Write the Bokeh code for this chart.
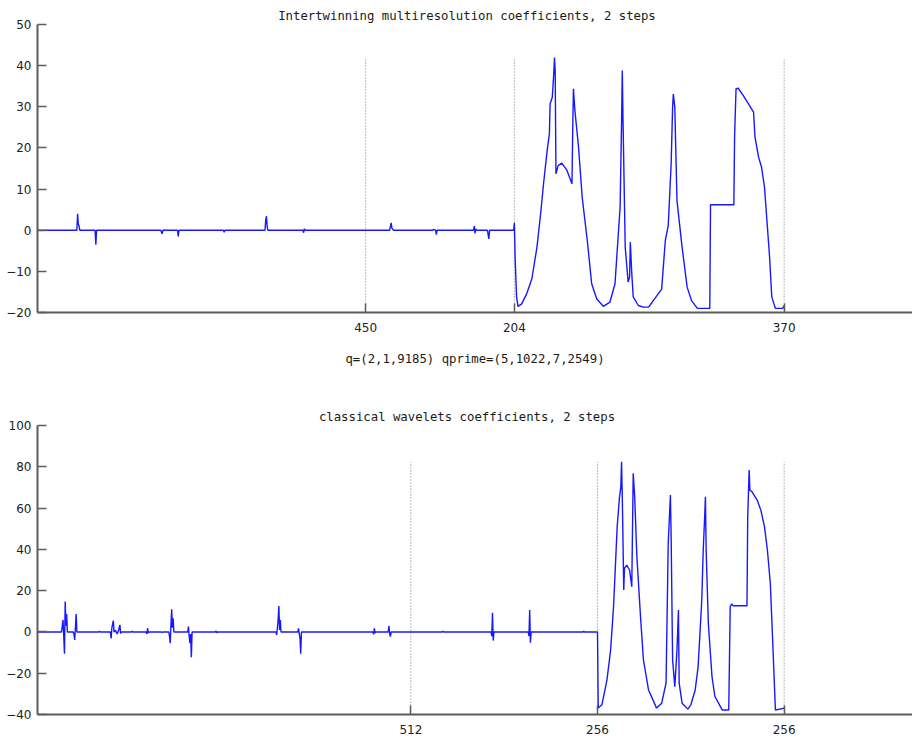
from bokeh.plotting import figure
from bokeh.layouts import column
from bokeh.models import Range1d, FixedTicker
from bokeh.embed import file_html
from bokeh.resources import INLINE

# ---- intertwining multiresolution coefficients (vertices: sample index, value)
inter_steps = [450, 204, 370]
inter_idx = [0, 54, 55, 56, 57, 58, 79, 80, 81, 169, 171, 172, 174, 175, 176, 192, 193, 194,
             255, 256, 257, 312, 313, 314, 315, 316, 364, 365, 366, 367, 483, 485, 486,
             488, 542, 543, 546, 547, 548, 598, 599, 600, 601, 602, 617, 619, 620, 653,
             654, 655, 657, 659, 664, 671, 678, 685, 690, 694, 699, 702, 703, 706, 708,
             709, 710, 711, 714, 719, 726, 733, 734, 735, 737, 742, 747, 754, 760, 767,
             776, 785, 792, 799, 801, 802, 803, 806, 810, 812, 813, 815, 817, 824, 831,
             838, 843, 856, 861, 865, 869, 871, 872, 874, 877, 884, 891, 897, 905, 922,
             923, 955, 956, 958, 961, 968, 975, 982, 984, 989, 993, 997, 1000, 1004,
             1007, 1012, 1022, 1024]
inter_val = [0, 0, 4.0, 1.5, 1.0, 0, 0, -3.5, 0, 0, -0.9, 0, 0, 0.1, 0, 0, -1.5, 0,
             0, -0.5, 0, 0, 2.5, 3.4, 0.8, 0, 0, -0.6, 0.3, 0, 0, 1.8, 0.5,
             0, 0, 0.2, 0, -1.1, 0, 0, 1.0, -0.8, 0.3, 0, 0, -2.1, 0, 0,
             1.8, -6.5, -16.2, -18.5, -17.9, -15.4, -11.8, -4.1, 4.0, 11.3, 19.4, 23.4, 30.7, 32.3, 38.0,
             42.0, 38.8, 13.7, 15.7, 16.3, 14.6, 11.3, 24.2, 34.4, 29.1, 20.2, 8.0, -2.5, -13.0, -16.7,
             -18.5, -17.5, -13.0, 5.6, 25.9, 38.8, 26.7, -4.1, -12.6, -11.4, -2.9, -10.5, -16.2, -18.3, -18.7,
             -18.7, -17.5, -14.3, -2.5, 1.1, 16.1, 29.9, 33.1, 29.9, 7.2, -4.1, -13.9, -17.1, -19.0, -19.0,
             6.2, 6.2, 22.6, 34.4, 34.5, 32.7, 30.7, 28.7, 22.6, 17.7, 15.3, 10.5, 3.2, -6.5,
             -16.2, -19.0, -19.0, -18.3]
inter_yticks = [-20, -10, 0, 10, 20, 30, 40, 50]

# ---- classical wavelet coefficients
wave_steps = [512, 256, 256]
wave_idx = [0, 33, 34, 35, 36, 37, 38, 39, 40, 41, 49, 50, 51, 52, 53, 54, 84, 85, 86,
            100, 101, 102, 104, 105, 107, 109, 111, 113, 114, 115, 129, 130, 131,
            149, 150, 151, 152, 153, 170, 171, 172, 180, 181, 182, 183, 184, 185, 186, 187,
            206, 207, 208, 209, 210, 211, 212, 244, 245, 246, 247,
            327, 328, 329, 330, 331, 332, 333, 334, 357, 358, 359, 360, 361, 362,
            460, 461, 462, 463, 464, 481, 482, 483, 484, 485, 555, 556, 557,
            622, 623, 624, 625, 626, 673, 674, 675, 676, 677, 748, 749, 750, 768,
            769, 774, 781, 786, 790, 795, 798, 800, 801, 802, 804, 805, 808, 812, 815,
            817, 819, 822, 827, 831, 838, 849, 856, 862, 865, 868, 869, 871, 874, 877,
            879, 880, 884, 892, 896, 902, 906, 911, 913, 915, 916, 917, 920, 925, 929,
            939, 948, 950, 952, 954, 973, 974, 976, 977, 980, 987, 992, 997, 1001,
            1005, 1008, 1012, 1018, 1024]
wave_val = [0, 0, 3, 5.8, -2, -10.6, 14.7, 3, 8.7, 0, 0, -1, -3.9, 2, 8.7, 0, 0, 0.3, 0,
            0, -3.1, 2, 5.5, 0, 0.8, -1, 0.5, 3.4, -0.8, 0, 0, 0.4, 0,
            0, -1, 1.8, -0.5, 0, 0, -0.3, 0, 0, -2, -5.5, 3, 11, 2, 6.6, 0,
            0, 2.6, -2, -5.5, -1, -12.3, 0, 0, 0.5, -0.4, 0,
            0, -1.5, 2, 5.8, 12.6, 1, 5.8, 0, 0, 1.7, -1, -3, -10.6, 0,
            0, -1.2, 1.7, -0.5, 0, 0, 2.9, -1, -2.2, 0, 0, 0.4, 0,
            0, -2, 9.3, -4.2, 0, 0, -2, 10.6, -5.2, 0, 0, 0.4, 0, 0,
            -36.9, -35.3, -23.2, -8.7, 12.2, 51, 64.7, 70.3, 82.4, 65.5, 20.3, 30.8, 32.4, 30, 21.9,
            76.8, 65.5, 36.4, 7.4, -13.6, -28.1, -36.9, -34.5, -24.8, 42.9, 66.3, 46.1, -13.6, -26.5, -8.7,
            10.6, -24.8, -34.5, -37.4, -35.3, -28.1, -16.8, 15.5, 39.7, 55.8, 65.5, 39.7, 4.2, -21.6, -31.3,
            -37.8, -37.8, 12.2, 13.6, 12.7, 12.7, 55.8, 78.4, 68.7, 67.9, 63.9, 59, 51, 39.7,
            23.6, -2.3, -37.8, -37.4, -37.0]
wave_yticks = [-40, -20, 0, 20, 40, 60, 80, 100]

X_MAX = 1200
FRAME_W = 875
AXIS_COLOR = "#5c5c5c"
MONO = "DejaVu Sans Mono"
SANS = "DejaVu Sans"
TITLE_PX = 12.3


def panel(title, idx, val, steps, yticks, xlabel, height, border_top, border_bottom, frame_h):
    p = figure(width=912, height=height, frame_width=FRAME_W, frame_height=frame_h,
               x_range=Range1d(0, X_MAX), y_range=Range1d(yticks[0], yticks[-1]),
               output_backend="svg", toolbar_location=None,
               min_border_left=37, min_border_right=0,
               min_border_top=border_top, min_border_bottom=border_bottom,
               background_fill_color="white", border_fill_color="white")
    p.outline_line_color = None
    p.xgrid.visible = False
    p.ygrid.visible = False

    # title sits slightly left of the frame centre
    text_w = len(title) * TITLE_PX * 0.602
    p.title.text = title
    p.title.align = "left"
    p.title.offset = FRAME_W / 2 - text_w / 2 - 8
    p.title.text_font = MONO
    p.title.text_font_size = f"{TITLE_PX}px"
    p.title.text_font_style = "normal"
    p.title.text_color = "#1a1a1a"
    p.title.standoff = 3

    # cumulative block boundaries, labelled with block lengths
    bounds = []
    total = 0
    for n in steps:
        total += n
        bounds.append(total)

    p.segment(x0=bounds, y0=[yticks[0]] * len(bounds), x1=bounds, y1=[max(val)] * len(bounds),
              line_color="#7a7a7a", line_width=1, line_dash="1 2")

    p.line(idx, val, line_color="#1818ff", line_width=1.4)

    xa = p.xaxis[0]
    xa.ticker = FixedTicker(ticks=bounds)
    xa.major_label_overrides = {b: str(n) for b, n in zip(bounds, steps)}
    ya = p.yaxis[0]
    ya.ticker = FixedTicker(ticks=yticks)

    for ax in (xa, ya):
        ax.axis_line_color = AXIS_COLOR
        ax.axis_line_width = 2
        ax.major_tick_line_color = AXIS_COLOR
        ax.major_tick_line_width = 1.5
        ax.major_tick_in = 9
        ax.major_tick_out = 0
        ax.minor_tick_line_color = None
        ax.major_label_text_font = SANS
        ax.major_label_text_font_size = "12px"
        ax.major_label_text_color = "#222222"
    xa.major_label_standoff = 10
    ya.major_label_standoff = 6

    if xlabel:
        xa.axis_label = xlabel
        xa.axis_label_text_font = MONO
        xa.axis_label_text_font_size = f"{TITLE_PX}px"
        xa.axis_label_text_font_style = "normal"
        xa.axis_label_text_color = "#1a1a1a"
        xa.axis_label_standoff = 17
    return p


top = panel("Intertwinning multiresolution coefficients, 2 steps", inter_idx, inter_val,
            inter_steps, inter_yticks, "q=(2,1,9185) qprime=(5,1022,7,2549)",
            380, 24, 68, 288)
bottom = panel("classical wavelets coefficients, 2 steps", wave_idx, wave_val,
               wave_steps, wave_yticks, None, 362, 45, 28, 289)

layout = column(top, bottom, spacing=0)
open("out.html", "w").write(file_html(layout, INLINE))
